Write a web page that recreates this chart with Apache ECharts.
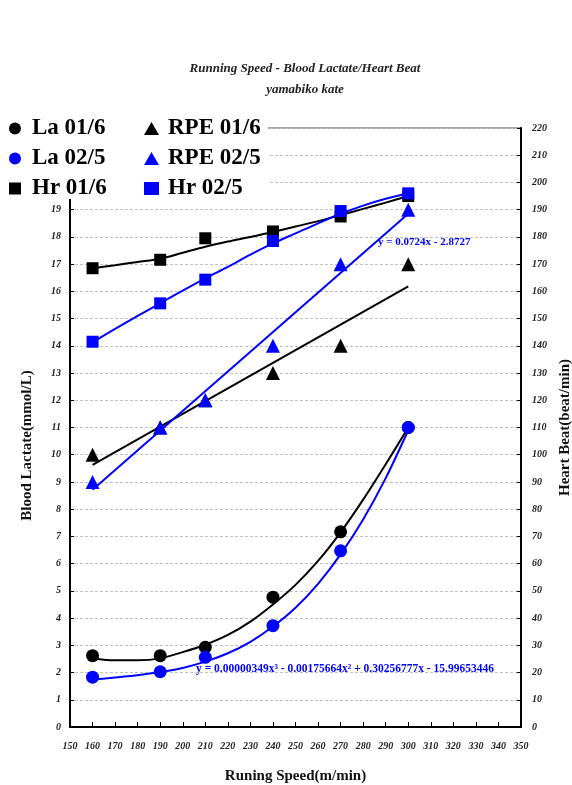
<!DOCTYPE html>
<html>
<head>
<meta charset="utf-8">
<script src="https://cdn.jsdelivr.net/npm/echarts@6/dist/echarts.min.js"></script>
<style>
html,body{margin:0;padding:0;background:#fff;overflow:hidden;}
#chart{width:572px;height:785px;}
</style>
</head>
<body>
<div id="chart"></div>
<script>
// ---- data ----
const titleText = 'Running Speed - Blood Lactate/Heart Beat';
const subTitleText = 'yamabiko kate';
const xAxisName = 'Runing Speed(m/min)';
const yLeftName = 'Blood Lactate(mmol/L)';
const yRightName = 'Heart Beat(beat/min)';

const speeds = [160, 190, 210, 240, 270, 300];
const laJan  = [2.62, 2.62, 2.93, 4.77, 7.17, 11.0];
const laFeb  = [1.83, 2.03, 2.56, 3.72, 6.47, 11.0];
const rpeJan = [10, 11, 12, 13, 14, 17];
const rpeFeb = [9, 11, 12, 14, 17, 19];
const hrJan  = [168.5, 171.6, 179.5, 182, 187.5, 195];
const hrFeb  = [141.5, 155.6, 164.3, 178.5, 189.5, 196];

// trendlines
const trendSpeeds = [160, 170, 180, 190, 200, 210, 220, 230, 240, 250, 260, 270, 280, 290, 300];
const laJanTrend = [2.52, 2.45, 2.45, 2.52, 2.75, 3.02, 3.38, 3.87, 4.5, 5.22, 6.1, 7.15, 8.35, 9.65, 11.0];
const laFebTrend = [1.74, 1.82, 1.90, 2.02, 2.17, 2.40, 2.71, 3.13, 3.69, 4.38, 5.26, 6.34, 7.62, 9.14, 10.90];
const hrJanTrend = [168.5, 169.6, 170.8, 172.0, 174.2, 176.4, 178.3, 180.0, 181.8, 183.8, 185.8, 188.0, 190.3, 192.6, 195.0];
const hrFebTrend = [141.3, 146.2, 151, 155.6, 160.3, 164.8, 169, 173.5, 177.6, 181.3, 185, 188.5, 191.5, 194, 196];
const linSpeeds = [160, 300];
const rpeJanTrend = [9.63, 16.18];
const rpeFebTrend = [8.71, 18.85];

const eqRpeFeb = 'y = 0.0724x - 2.8727';
const eqLaFeb = 'y = 0.00000349x\u00B3 - 0.00175664x\u00B2 + 0.30256777x - 15.99653446';

const BLUE = '#0000FF';
const BLACK = '#000000';
const FONT = 'Liberation Serif';

function pairs(xs, ys) { return xs.map((x, i) => [x, ys[i]]); }

const chart = echarts.init(document.getElementById('chart'));

const tickLabel = { fontFamily: FONT, fontSize: 10, fontWeight: 'bold', fontStyle: 'italic', color: '#222' };
const nameStyle = { fontFamily: FONT, fontSize: 15, fontWeight: 'bold', color: '#111' };

function trend(name, xs, ys, color, yIdx, smooth) {
  return {
    name: name, type: 'line', data: pairs(xs, ys), yAxisIndex: yIdx,
    showSymbol: false, symbol: 'none', smooth: smooth ? 0.3 : false,
    lineStyle: { color: color, width: 2 }, silent: true, z: 2
  };
}
function marks(name, ys, color, symbol, size, yIdx) {
  return {
    name: name, type: 'scatter', data: pairs(speeds, ys), yAxisIndex: yIdx,
    symbol: symbol, symbolSize: size, itemStyle: { color: color, opacity: 1 }, z: 3
  };
}

function legendText(padLeft) {
  return { fontFamily: FONT, fontSize: 23, fontWeight: 'bold', color: '#000', lineHeight: 22, padding: [0, 0, 0, padLeft] };
}

chart.setOption({
  animation: false,
  backgroundColor: '#fff',
  title: {
    text: titleText,
    subtext: subTitleText,
    left: 300, top: 57, textAlign: 'center',
    itemGap: 8,
    textStyle: { fontFamily: FONT, fontSize: 13, fontWeight: 'bold', fontStyle: 'italic', color: '#222' },
    subtextStyle: { fontFamily: FONT, fontSize: 13, fontWeight: 'bold', fontStyle: 'italic', color: '#222' }
  },
  legend: [
    {
      orient: 'vertical', left: 9, top: 117, padding: 0, itemGap: 7,
      itemWidth: 12, itemHeight: 12, z: 10,
      data: [
        { name: 'La 01/6', icon: 'circle' },
        { name: 'La 02/5', icon: 'circle' },
        { name: 'Hr 01/6', icon: 'rect' }
      ],
      textStyle: legendText(6)
    },
    {
      orient: 'vertical', left: 144, top: 117, padding: 0, itemGap: 7,
      itemWidth: 15, itemHeight: 13, z: 10,
      data: [
        { name: 'RPE 01/6', icon: 'triangle' },
        { name: 'RPE 02/5', icon: 'triangle' },
        { name: 'Hr 02/5', icon: 'rect' }
      ],
      textStyle: legendText(4)
    }
  ],
  grid: {
    left: 70, right: 51, top: 128, bottom: 58,
    outerBoundsMode: 'none', containLabel: false,
    show: true, borderColor: '#888', borderWidth: 1.5, backgroundColor: 'transparent'
  },
  xAxis: {
    type: 'value', min: 150, max: 350, interval: 10,
    name: xAxisName, nameLocation: 'middle', nameGap: 42, nameTextStyle: nameStyle,
    axisLine: { onZero: false, lineStyle: { color: BLACK, width: 2 } },
    axisTick: { show: true, inside: true, length: 5, lineStyle: { color: BLACK } },
    axisLabel: Object.assign({ margin: 14 }, tickLabel),
    splitLine: { show: false }
  },
  yAxis: [
    {
      type: 'value', min: 0, max: 22, interval: 1, position: 'left',
      name: yLeftName, nameLocation: 'middle', nameGap: 35,
      nameTextStyle: Object.assign({}, nameStyle, { padding: [0, 36, 0, 0] }),
      axisLine: { show: true, lineStyle: { color: BLACK, width: 2 } },
      axisTick: { show: true, inside: true, length: 4, lineStyle: { color: BLACK } },
      axisLabel: Object.assign({ margin: 9, formatter: v => (v > 19 ? '' : String(v)) }, tickLabel),
      splitLine: { show: true, lineStyle: { color: '#c0c0c0', type: [3, 2], width: 1 } }
    },
    {
      type: 'value', min: 0, max: 220, interval: 10, position: 'right',
      name: yRightName, nameLocation: 'middle', nameGap: 36, nameTextStyle: nameStyle,
      axisLine: { show: true, lineStyle: { color: BLACK, width: 2 } },
      axisTick: { show: true, inside: true, length: 4, lineStyle: { color: BLACK } },
      axisLabel: Object.assign({ margin: 11 }, tickLabel),
      splitLine: { show: false }
    }
  ],
  graphic: [
    { type: 'rect', left: 0, top: 108, z: 5, shape: { width: 268, height: 91 }, style: { fill: '#fff' }, silent: true },
    { type: 'text', left: 378, top: 237, z: 6,
      style: { text: eqRpeFeb, fill: BLUE, font: 'bold 11px "Liberation Serif"' } },
    { type: 'text', left: 196, top: 663, z: 6,
      style: { text: eqLaFeb, fill: BLUE, font: 'bold 11.5px "Liberation Serif"' } }
  ],
  series: [
    trend('t-laJan', trendSpeeds, laJanTrend, BLACK, 0, true),
    trend('t-laFeb', trendSpeeds, laFebTrend, BLUE, 0, true),
    trend('t-rpeJan', linSpeeds, rpeJanTrend, BLACK, 0, false),
    trend('t-rpeFeb', linSpeeds, rpeFebTrend, BLUE, 0, false),
    trend('t-hrJan', trendSpeeds, hrJanTrend, BLACK, 1, true),
    trend('t-hrFeb', trendSpeeds, hrFebTrend, BLUE, 1, true),
    marks('La 01/6', laJan, BLACK, 'circle', 13, 0),
    marks('La 02/5', laFeb, BLUE, 'circle', 13, 0),
    marks('RPE 01/6', rpeJan, BLACK, 'triangle', 14, 0),
    marks('RPE 02/5', rpeFeb, BLUE, 'triangle', 14, 0),
    marks('Hr 01/6', hrJan, BLACK, 'rect', 12, 1),
    marks('Hr 02/5', hrFeb, BLUE, 'rect', 12, 1)
  ]
});
</script>
</body>
</html>
